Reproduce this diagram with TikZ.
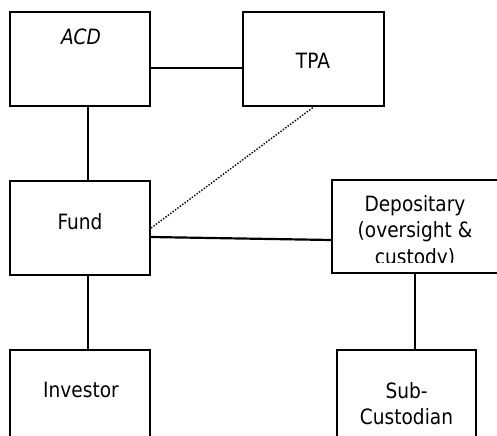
\documentclass[tikz,border=0pt]{standalone}
\usepackage{fontspec}
\setmainfont{DejaVu Sans}[FakeStretch=0.88]
\usetikzlibrary{positioning}

\begin{document}
\begin{tikzpicture}[x=0.02cm, y=-0.02cm]
        \tikzstyle{party}=[draw, rectangle, line width=1.25pt, minimum width=2.8cm, minimum height=1.88cm, inner sep=0pt];
        \tikzstyle{boxtext}=[font=\fontsize{12}{15.2}\selectfont, align=center, inner sep=0pt];
        \useasboundingbox (0,0) rectangle (497,436);
        \clip (0,0) rectangle (497,436);

        \node[party] (acd) at (80,59) {};
        \node[party, minimum width=2.82cm] (tpa) at (313.5,59) {};
        \node[party] (fund) at (80,228) {};
        \node[party, minimum width=3.32cm, minimum height=1.86cm] (dep) at (415,226.5) {};
        \node[party] (inv) at (80,397) {};
        \node[party, minimum width=2.78cm] (sub) at (406.5,397) {};

        \node[boxtext] (acdtext) at (81,37) {\textit{ACD}};
        \node[boxtext] (tpatext) at (313,61) {TPA};
        \node[boxtext] (fundtext) at (80,222) {Fund};
        \node[boxtext] (invtext) at (81,390) {Investor};
        \node[boxtext] (subtext) at (406.5,403.5) {Sub-\\Custodian};
        \begin{scope}
          \clip (dep.north west) rectangle (497,262);
          \node[boxtext] (deptext) at (415,232) {Depositary\\(oversight \&\\custody)};
        \end{scope}

        \path[line width=0.7pt]
        ([yshift=-0.18cm]acd.east) edge ([yshift=-0.18cm]tpa.west);
        \path[line width=1.25pt]
        ([xshift=0.16cm]acd.south) edge ([xshift=0.16cm]fund.north)
        ([xshift=0.16cm]fund.south) edge ([xshift=0.16cm]inv.north)
        ([yshift=-0.18cm]fund.east) edge ([yshift=-0.27cm]dep.west)
        (dep.south) edge (dep.south |- sub.north);
        \path[dash pattern=on 0.8pt off 0.9pt, line width=0.8pt]
        (fund.east) edge (tpa.south);
\end{tikzpicture}
\end{document}
